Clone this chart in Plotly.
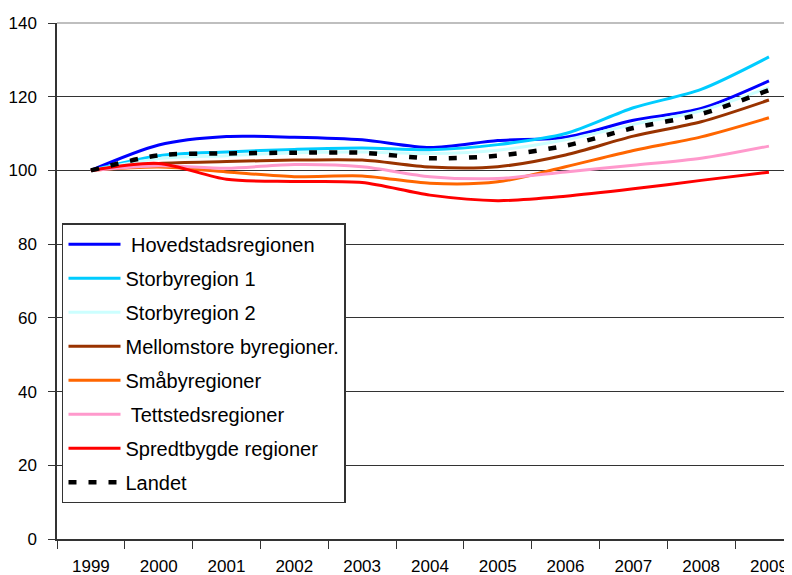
import plotly.graph_objects as go

years = ["1999", "2000", "2001", "2002", "2003", "2004", "2005", "2006", "2007", "2008", "2009"]

hovedstad = [100, 106.9, 109.2, 109.0, 108.3, 106.2, 108.1, 109.0, 113.6, 116.8, 124.3]
storby1 = [100, 104.0, 105.0, 105.7, 106.1, 105.6, 107.0, 110.0, 117.0, 122.0, 130.8]
storby2 = [100, 103.2, 104.0, 104.8, 105.0, 104.6, 105.5, 108.3, 112.5, 116.2, 122.5]
mellomstore = [100, 101.9, 102.4, 102.8, 102.8, 100.9, 101.0, 104.2, 109.3, 113.2, 119.1]
smaby = [100, 100.9, 99.6, 98.3, 98.5, 96.5, 96.9, 101.0, 105.4, 109.1, 114.3]
tettsted = [100, 101.3, 100.6, 101.6, 101.0, 98.3, 97.8, 99.6, 101.4, 103.3, 106.6]
spredt = [100, 101.9, 97.6, 97.0, 96.7, 93.3, 91.8, 93.0, 95.0, 97.3, 99.5]
landet = [100, 104.1, 104.6, 104.8, 104.8, 103.3, 104.0, 106.7, 111.5, 115.3, 121.8]

series = [
    (" Hovedstadsregionen", hovedstad, "#0000FF", "solid", 3),
    ("Storbyregion 1", storby1, "#00CCFF", "solid", 3),
    ("Storbyregion 2", storby2, "#CCFFFF", "solid", 3),
    ("Mellomstore byregioner.", mellomstore, "#993300", "solid", 3),
    ("Småbyregioner", smaby, "#FF6600", "solid", 3),
    (" Tettstedsregioner", tettsted, "#FF99CC", "solid", 3),
    ("Spredtbygde regioner", spredt, "#FF0000", "solid", 3),
    ("Landet", landet, "#000000", "8px,12px", 4.5),
]

fig = go.Figure()
for i, (name, vals, color, dash, width) in enumerate(series):
    fig.add_trace(go.Scatter(
        x=years, y=vals, name=name, mode="lines",
        line=dict(color=color, dash=dash, width=width, shape="spline", smoothing=0.8),
        legendgroup=f"g{i}",
    ))

# the page places the figure 8px in from the top-left corner (default body margin)
fig.update_layout(
    width=784, height=567,
    margin=dict(l=49, r=0, t=15, b=36, autoexpand=False),
    plot_bgcolor="white", paper_bgcolor="white",
    font=dict(family="Liberation Sans, Arial, sans-serif", color="black", size=16),
    showlegend=True,
    legend=dict(
        x=0.0068, y=0.612, xanchor="left", yanchor="top",
        bgcolor="white", bordercolor="#333333", borderwidth=1.5,
        font=dict(size=20, family="Liberation Sans, Arial, sans-serif"),
        tracegroupgap=5, itemwidth=52,
    ),
    xaxis=dict(
        type="category", range=[-0.5, 10.34], automargin=False,
        showgrid=False, showline=True, linecolor="#333333", linewidth=1.5,
        ticks="outside", tickson="boundaries", ticklen=8, tickcolor="#333333",
        tickfont=dict(size=17), zeroline=False, ticklabelstandoff=11,
    ),
    yaxis=dict(
        range=[0, 140], tickvals=[0, 20, 40, 60, 80, 100, 120, 140], automargin=False,
        showgrid=True, gridcolor="#333333", gridwidth=1,
        showline=True, linecolor="#333333", linewidth=1.5,
        ticks="outside", ticklen=7, tickcolor="#333333",
        tickfont=dict(size=17), zeroline=False, ticklabelstandoff=8,
    ),
    shapes=[dict(type="line", xref="paper", yref="paper", x0=0, x1=1, y0=1, y1=1,
                 line=dict(color="#AAAAAA", width=1.5))],
)

fig.write_html("out.html")
